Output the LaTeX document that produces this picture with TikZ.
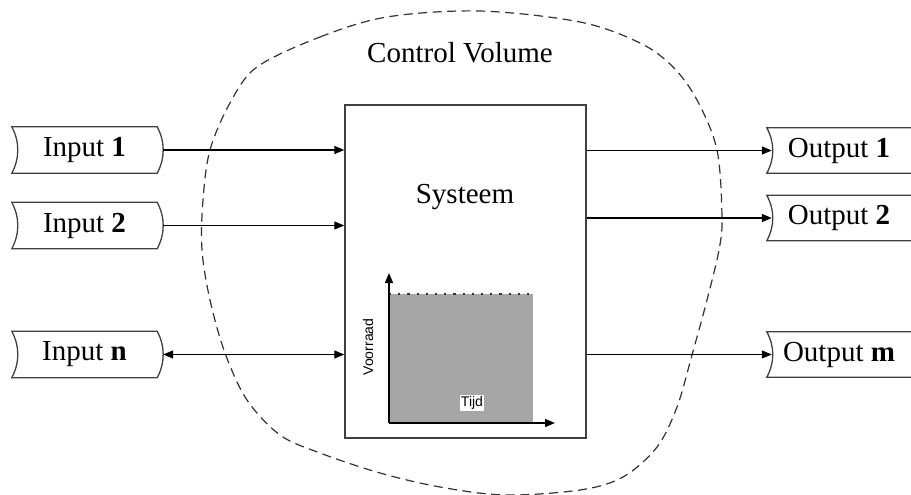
\documentclass[tikz,border=0pt]{standalone}
\usepackage{fontspec}
\setmainfont{Liberation Serif}
\newfontfamily\sansf{Liberation Sans}
\usetikzlibrary{arrows.meta,calc}
\definecolor{chartgray}{RGB}{166,166,166}
\definecolor{outlc}{RGB}{64,64,64}
\begin{document}
\begin{tikzpicture}[x=1pt,y=-1pt,
  lbl/.style={font=\fontsize{29}{34}\selectfont},
  inbox/.style={minimum width=145pt,minimum height=46pt,inner sep=0pt,lbl},
  outbox/.style={minimum width=144pt,minimum height=45pt,inner sep=0pt,lbl},
  outl/.style={draw=outlc,line width=1.3pt},
  tip/.tip={Triangle[length=10pt,width=8pt]},
  conn/.style={line width=1.3pt,-tip},
  biconn/.style={line width=1.3pt,tip-tip},
  cv/.style={draw=black!80,line width=1.2pt,dash pattern=on 9pt off 5.5pt}]
\useasboundingbox (0,0) rectangle (911,495);

% control volume
\draw[cv] plot[smooth cycle, tension=0.55] coordinates {
 (257,67) (320,37) (387,17) (480,11) (580,22) (640,43) (673,67) (697,100)
 (717,150) (722,217) (719,250) (707,300) (692,355) (677,407) (657,447)
 (623,477) (580,490) (505,495) (440,487) (380,473) (320,453) (280,435)
 (247,400) (225,353) (210,300) (202,250) (203,200) (210,150) (230,103)};
\node[lbl] (cvlabel) at (460,53) {Control Volume};

% system
\node[outl,line width=1.4pt,minimum width=241pt,minimum height=333pt,inner sep=0pt] (sys) at (465.5,271.5) {};
\node[lbl] (systeem) at (465,197) {Systeem};

% chart
\coordinate (orig) at (389,423);
\coordinate (ytop) at (389,273);
\coordinate (xend) at (555,423);
\fill[chartgray] (389,294) rectangle (533,423);
\draw[black!80,line width=1.8pt,dash pattern=on 2.2pt off 7pt] (389,294) -- (533,294);
\draw[conn] (orig) -- (ytop);
\draw[conn] (orig) -- (xend);
\node[fill=white,inner sep=1pt,font=\sansf\fontsize{14}{16}\selectfont] (tijd) at (472,403) {Tijd};
\node[rotate=90,inner sep=0pt,font=\sansf\fontsize{14}{16}\selectfont] (voorraad) at (368,347) {Voorraad};

% inputs
\node[inbox] (in1) at (84.5,150) {Input \textbf{1}};
\node[inbox] (in2) at (84.5,225.5) {Input \textbf{2}};
\node[inbox] (inn) at (84.5,354.5) {Input \textbf{n}};
\foreach \n in {in1,in2,inn}{
  \draw[outl] (\n.north west) -- (\n.north east)
    .. controls ($(\n.north east)+(8,15)$) and ($(\n.south east)+(8,-15)$) .. (\n.south east)
    -- (\n.south west)
    .. controls ($(\n.south west)+(8,-15)$) and ($(\n.north west)+(8,15)$) .. (\n.north west) -- cycle;
}

% outputs
\node[outbox] (out1) at (839,150.5) {Output \textbf{1}};
\node[outbox] (out2) at (839,218) {Output \textbf{2}};
\node[outbox] (outm) at (839,354.5) {Output \textbf{m}};
\foreach \n in {out1,out2,outm}{
  \draw[outl] (\n.north east) -- (\n.north west)
    .. controls ($(\n.north west)+(8,15)$) and ($(\n.south west)+(8,-15)$) .. (\n.south west)
    -- (\n.south east);
}

% connectors
\draw[conn] ($(in1.east)+(6,0)$) -- (sys.west |- in1.east);
\draw[conn] ($(in2.east)+(6,0)$) -- (sys.west |- in2.east);
\draw[biconn] ($(inn.east)+(6,0)$) -- (sys.west |- inn.east);
\draw[conn] (sys.east |- out1.west) -- ($(out1.west)+(5,0)$);
\draw[conn] (sys.east |- out2.west) -- ($(out2.west)+(5,0)$);
\draw[conn] (sys.east |- outm.west) -- ($(outm.west)+(5,0)$);
\end{tikzpicture}
\end{document}
